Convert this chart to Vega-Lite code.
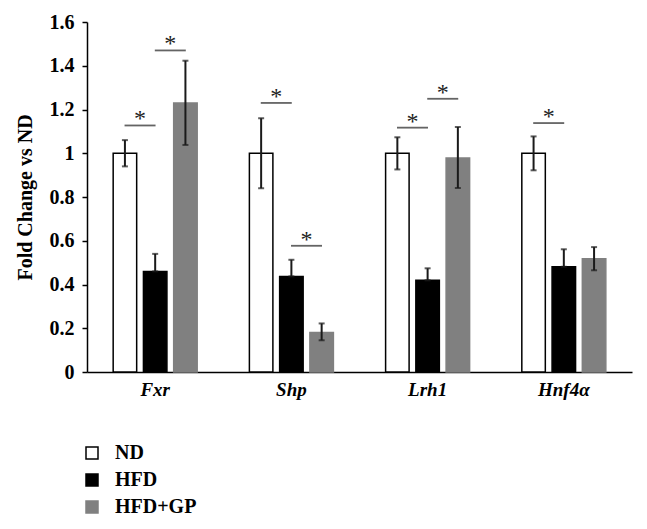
{
  "$schema": "https://vega.github.io/schema/vega-lite/v6.json",
  "width": 545,
  "height": 350,
  "autosize": {"type": "none"},
  "padding": {"left": 87, "top": 22, "right": 15, "bottom": 157},
  "background": "white",
  "datasets": {
    "bars": [
      {"gene": "Fxr", "group": "ND", "value": 1, "lo": 0.94, "hi": 1.06},
      {"gene": "Fxr", "group": "HFD", "value": 0.46, "lo": 0.46, "hi": 0.54},
      {"gene": "Fxr", "group": "HFD+GP", "value": 1.23, "lo": 1.038, "hi": 1.423},
      {"gene": "Shp", "group": "ND", "value": 1, "lo": 0.84, "hi": 1.16},
      {"gene": "Shp", "group": "HFD", "value": 0.437, "lo": 0.437, "hi": 0.513},
      {"gene": "Shp", "group": "HFD+GP", "value": 0.181, "lo": 0.145, "hi": 0.222},
      {"gene": "Lrh1", "group": "ND", "value": 1, "lo": 0.926, "hi": 1.073},
      {"gene": "Lrh1", "group": "HFD", "value": 0.419, "lo": 0.419, "hi": 0.474},
      {"gene": "Lrh1", "group": "HFD+GP", "value": 0.978, "lo": 0.841, "hi": 1.12},
      {"gene": "Hnf4α", "group": "ND", "value": 1, "lo": 0.922, "hi": 1.077},
      {"gene": "Hnf4α", "group": "HFD", "value": 0.481, "lo": 0.481, "hi": 0.561},
      {"gene": "Hnf4α", "group": "HFD+GP", "value": 0.518, "lo": 0.465, "hi": 0.571}
    ],
    "brackets": [
      {"gene": "Fxr", "pair": "ND|HFD", "y": 1.127},
      {"gene": "Fxr", "pair": "HFD|HFD+GP", "y": 1.47},
      {"gene": "Shp", "pair": "ND|HFD", "y": 1.23},
      {"gene": "Shp", "pair": "HFD|HFD+GP", "y": 0.577},
      {"gene": "Lrh1", "pair": "ND|HFD", "y": 1.117},
      {"gene": "Lrh1", "pair": "HFD|HFD+GP", "y": 1.249},
      {"gene": "Hnf4α", "pair": "ND|HFD", "y": 1.138}
    ]
  },
  "layer": [
    {
      "data": {"name": "bars"},
      "mark": {"type": "bar", "width": 23.5, "strokeWidth": 1.5},
      "encoding": {
        "x": {
          "field": "gene", "type": "nominal",
          "scale": {"domain": ["Fxr", "Shp", "Lrh1", "Hnf4α"], "paddingInner": 0.383, "paddingOuter": 0.192},
          "axis": {"title": null, "ticks": false, "labelAngle": 0, "labelFontStyle": "italic", "labelFontSize": 19, "labelPadding": 8}
        },
        "xOffset": {
          "field": "group", "type": "nominal",
          "scale": {"domain": ["ND", "ND|HFD", "HFD", "HFD|HFD+GP", "HFD+GP"], "paddingInner": 0, "paddingOuter": 0.278}
        },
        "y": {
          "field": "value", "type": "quantitative",
          "scale": {"domain": [0, 1.6], "nice": false},
          "axis": {"title": "Fold Change vs ND", "values": [0, 0.2, 0.4, 0.6, 0.8, 1, 1.2, 1.4, 1.6], "format": ".1~f", "grid": false, "tickSize": 5, "labelPadding": 8, "labelFontSize": 20, "titleFontSize": 20, "titlePadding": 14}
        },
        "fill": {
          "field": "group", "type": "nominal",
          "scale": {"domain": ["ND", "HFD", "HFD+GP"], "range": ["#ffffff", "#000000", "#808080"]},
          "legend": {"title": null}
        },
        "stroke": {
          "field": "group", "type": "nominal",
          "scale": {"domain": ["ND", "HFD", "HFD+GP"], "range": ["#000000", "#000000", "#808080"]},
          "legend": {"title": null}
        }
      }
    },
    {
      "data": {"name": "bars"},
      "mark": {"type": "rule", "color": "#1a1a1a", "strokeWidth": 2},
      "encoding": {
        "x": {"field": "gene", "type": "nominal"},
        "xOffset": {"field": "group", "type": "nominal"},
        "y": {"field": "lo", "type": "quantitative"},
        "y2": {"field": "hi"}
      }
    },
    {
      "data": {"name": "bars"},
      "mark": {"type": "tick", "orient": "horizontal", "color": "#1a1a1a", "size": 6, "thickness": 2},
      "encoding": {
        "x": {"field": "gene", "type": "nominal"},
        "xOffset": {"field": "group", "type": "nominal"},
        "y": {"field": "lo", "type": "quantitative"}
      }
    },
    {
      "data": {"name": "bars"},
      "mark": {"type": "tick", "orient": "horizontal", "color": "#1a1a1a", "size": 6, "thickness": 2},
      "encoding": {
        "x": {"field": "gene", "type": "nominal"},
        "xOffset": {"field": "group", "type": "nominal"},
        "y": {"field": "hi", "type": "quantitative"}
      }
    },
    {
      "data": {"name": "brackets"},
      "mark": {"type": "tick", "orient": "horizontal", "color": "#222222", "size": 31, "thickness": 1.8},
      "encoding": {
        "x": {"field": "gene", "type": "nominal"},
        "xOffset": {"field": "pair", "type": "nominal"},
        "y": {"field": "y", "type": "quantitative"}
      }
    },
    {
      "data": {"name": "brackets"},
      "mark": {"type": "text", "text": "*", "font": "Liberation Serif", "fontSize": 24, "color": "#222222", "baseline": "alphabetic", "dy": 1},
      "encoding": {
        "x": {"field": "gene", "type": "nominal"},
        "xOffset": {"field": "pair", "type": "nominal"},
        "y": {"field": "y", "type": "quantitative"}
      }
    }
  ],
  "config": {
    "view": {"stroke": null},
    "font": "Liberation Serif",
    "axis": {
      "domainColor": "#000000", "domainWidth": 1.5, "tickColor": "#000000", "tickWidth": 1.5,
      "labelColor": "#000000", "titleColor": "#000000",
      "labelFont": "Liberation Serif", "titleFont": "Liberation Serif",
      "labelFontWeight": "bold", "titleFontWeight": "bold"
    },
    "legend": {
      "orient": "none", "legendX": -5, "legendY": 421,
      "symbolType": "square", "symbolSize": 144, "symbolStrokeWidth": 1.5,
      "labelFont": "Liberation Serif", "labelFontSize": 20, "labelFontWeight": "bold", "labelColor": "#000000",
      "labelOffset": 13, "rowPadding": 7
    }
  }
}
